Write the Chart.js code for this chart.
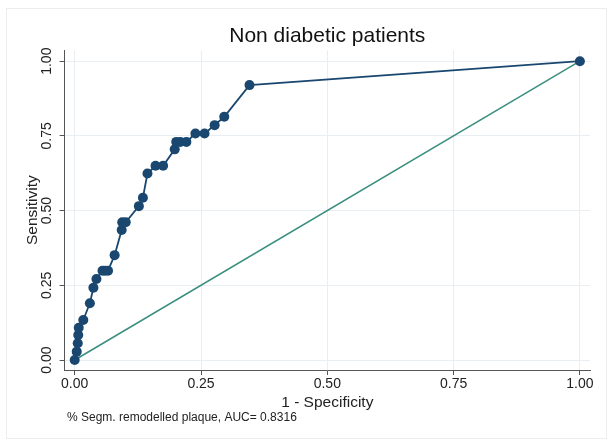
<!DOCTYPE html>
<html>
<head>
<meta charset="utf-8">
<script src="https://cdn.jsdelivr.net/npm/chart.js@4/dist/chart.umd.min.js"></script>
<style>
    html, body { margin: 0; padding: 0; background: #fff; }
    #wrap { width: 613px; height: 445px; position: relative; }
</style>
</head>
<body>
<div id="wrap"><canvas id="roc"></canvas></div>
<script>
// ROC curve points (1 - specificity, sensitivity)
const fpr = [0.000, 0.004, 0.006, 0.007, 0.008, 0.017, 0.030, 0.037, 0.043, 0.055, 0.060, 0.066,
             0.079, 0.093, 0.094, 0.101, 0.127, 0.135, 0.144, 0.160, 0.175, 0.198, 0.201, 0.209,
             0.221, 0.239, 0.257, 0.277, 0.296, 0.346, 1.000];
const sens = [0.000, 0.028, 0.056, 0.084, 0.108, 0.134, 0.190, 0.242, 0.271, 0.299, 0.299, 0.299,
              0.351, 0.435, 0.461, 0.461, 0.515, 0.543, 0.624, 0.650, 0.650, 0.705, 0.730, 0.730,
              0.730, 0.758, 0.758, 0.786, 0.814, 0.920, 1.000];
// reference (chance) line
const refX = [0, 1];
const refY = [0, 1];
const tickVals = [0, 0.25, 0.5, 0.75, 1];

const navy = '#1a476f';
const teal = '#3a8f7e';
const gridCol = '#e8eef1';
const axisCol = '#555555';
const textCol = '#222222';

// footnote under the plot + faint outer frame
const notePlugin = {
    id: 'note',
    beforeDraw(chart) {
        const ctx = chart.ctx;
        ctx.save();
        ctx.strokeStyle = '#ededed';
        ctx.lineWidth = 1;
        ctx.strokeRect(6.5, 8.5, 600, 430);
        ctx.restore();
    },
    afterDraw(chart) {
        const ctx = chart.ctx;
        ctx.save();
        ctx.font = '12px "Liberation Sans", Arial, sans-serif';
        ctx.fillStyle = textCol;
        ctx.textBaseline = 'middle';
        ctx.textAlign = 'left';
        ctx.fillText('% Segm. remodelled plaque, AUC= 0.8316', 67, 418);
        ctx.restore();
    }
};

Chart.defaults.font.family = '"Liberation Sans", Arial, sans-serif';
Chart.defaults.color = textCol;

new Chart(document.getElementById('roc'), {
    type: 'scatter',
    data: {
        datasets: [{
            label: 'ROC',
            data: fpr.map((x, i) => ({ x: x, y: sens[i] })),
            showLine: true,
            borderColor: navy,
            borderWidth: 1.8,
            backgroundColor: navy,
            pointBackgroundColor: navy,
            pointBorderColor: navy,
            pointRadius: 5,
            pointBorderWidth: 0
        }, {
            label: 'Reference',
            data: refX.map((x, i) => ({ x: x, y: refY[i] })),
            showLine: true,
            borderColor: teal,
            borderWidth: 1.5,
            pointRadius: 0
        }]
    },
    options: {
        responsive: true,
        maintainAspectRatio: false,
        animation: false,
        layout: { padding: { left: 23.2, right: 23, top: 0, bottom: 32.6 } },
        plugins: {
            legend: { display: false },
            tooltip: { enabled: false },
            title: {
                display: true,
                text: 'Non diabetic patients',
                fullSize: false,
                color: '#111',
                font: { size: 21, weight: 'normal' },
                padding: { top: 24, bottom: 1 }
            }
        },
        scales: {
            x: {
                type: 'linear',
                min: -0.02,
                max: 1.02,
                afterBuildTicks: axis => { axis.ticks = tickVals.map(v => ({ value: v })); },
                grid: { color: gridCol, tickColor: axisCol, tickLength: 5, lineWidth: 1 },
                border: { color: axisCol, width: 1 },
                ticks: {
                    padding: 1,
                    font: { size: 14 },
                    color: textCol,
                    maxRotation: 0,
                    callback: v => v.toFixed(2)
                },
                title: {
                    display: true,
                    text: '1 - Specificity',
                    font: { size: 15.5 },
                    color: textCol,
                    padding: { top: 0, bottom: 0 }
                }
            },
            y: {
                type: 'linear',
                min: -0.0334,
                max: 1.0368,
                afterBuildTicks: axis => { axis.ticks = tickVals.map(v => ({ value: v })); },
                grid: { color: gridCol, tickColor: axisCol, tickLength: 5, lineWidth: 1 },
                border: { color: axisCol, width: 1 },
                ticks: {
                    padding: -1,
                    font: { size: 14 },
                    color: textCol,
                    minRotation: 90,
                    maxRotation: 90,
                    crossAlign: 'center',
                    callback: v => v.toFixed(2)
                },
                title: {
                    display: true,
                    text: 'Sensitivity',
                    font: { size: 15.5 },
                    color: textCol,
                    padding: { top: 0, bottom: 3 }
                }
            }
        }
    },
    plugins: [notePlugin]
});
</script>
</body>
</html>
